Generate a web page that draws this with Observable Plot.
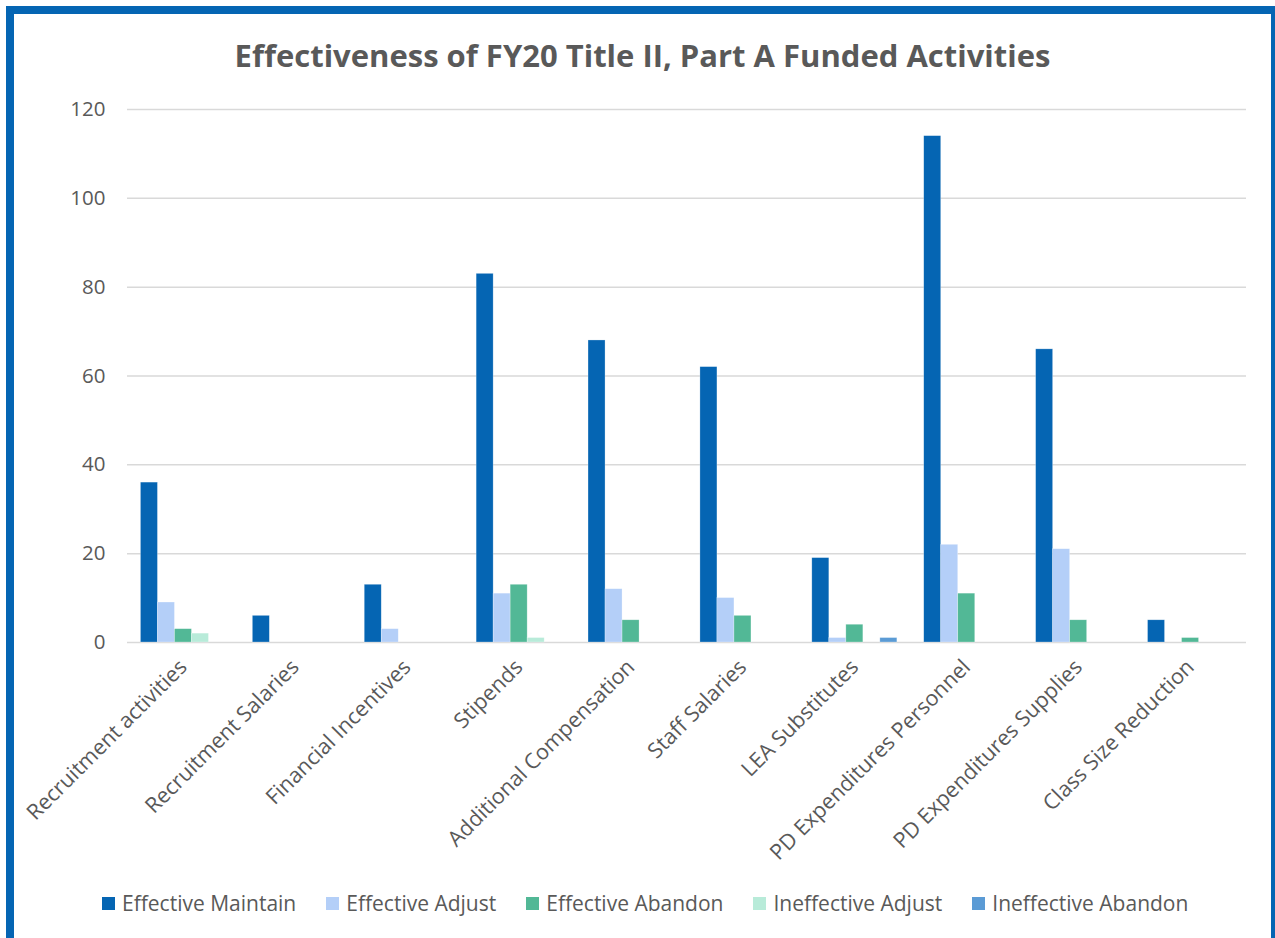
<!DOCTYPE html>
<html>
<head>
<meta charset="utf-8">
<script src="https://cdn.jsdelivr.net/npm/d3@7"></script>
<script src="https://cdn.jsdelivr.net/npm/@observablehq/plot@0.6"></script>
<style>
  html, body { margin: 0; padding: 0; width: 1275px; height: 938px; overflow: hidden; background: #fff; }
  #frame { position: absolute; left: 6px; top: 6px; width: 1273px; height: 960px; box-sizing: border-box; border: 8px solid #0565b3; }
  #title { position: absolute; left: 0; width: 1285px; top: 33px; text-align: center; font-family: "Open Sans", sans-serif; font-weight: 700; font-size: 31px; color: #595959; line-height: 44px; }
  #chart { position: absolute; left: 0; top: 90px; }
  #legend { position: absolute; left: 102px; top: 889px; display: flex; gap: 30px; font-family: "Open Sans", sans-serif; font-size: 21px; color: #595959; align-items: center; }
  .item { display: flex; align-items: center; gap: 7px; }
  .sw { width: 13px; height: 13px; display: inline-block; }
</style>
</head>
<body>
<div id="frame"></div>
<div id="title">Effectiveness of FY20 Title II, Part A Funded Activities</div>
<div id="chart"></div>
<div id="legend"></div>
<script>
const categories = ["Recruitment activities", "Recruitment Salaries", "Financial Incentives", "Stipends", "Additional Compensation", "Staff Salaries", "LEA Substitutes", "PD Expenditures Personnel", "PD Expenditures Supplies", "Class Size Reduction"];
const seriesNames = ["Effective Maintain", "Effective Adjust", "Effective Abandon", "Ineffective Adjust", "Ineffective Abandon"];
const seriesColors = ["#0565b3", "#b4cff8", "#52b896", "#b8ebd9", "#5b9bd5"];
const effectiveMaintain  = [36, 6, 13, 83, 68, 62, 19, 114, 66, 5];
const effectiveAdjust    = [9, 0, 3, 11, 12, 10, 1, 22, 21, 0];
const effectiveAbandon   = [3, 0, 0, 13, 5, 6, 4, 11, 5, 1];
const ineffectiveAdjust  = [2, 0, 0, 1, 0, 0, 0, 0, 0, 0];
const ineffectiveAbandon = [0, 0, 0, 0, 0, 0, 1, 0, 0, 0];
const yTicks = [0, 20, 40, 60, 80, 100, 120];

const seriesValues = [effectiveMaintain, effectiveAdjust, effectiveAbandon, ineffectiveAdjust, ineffectiveAbandon];

const W = 1275, ML = 127, MR = 29;
const paddingInner = 0.24, paddingOuter = 0.12;
const bandwidth = (W - ML - MR) / (categories.length) * (1 - paddingInner);
const barW = bandwidth / seriesNames.length;

const barMarks = seriesNames.map((s, j) => {
  const data = categories.map((c, i) => ({category: c, series: s, value: seriesValues[j][i]})).filter(d => d.value > 0);
  return Plot.barY(data, {
    x: "category", y: "value", fill: "series",
    insetLeft: j * barW, insetRight: (seriesNames.length - 1 - j) * barW,
    stroke: "#ffffff", strokeOpacity: 0.45, strokeWidth: 0.6
  });
});

const chart = Plot.plot({
  width: W,
  height: 802,
  marginLeft: ML,
  marginRight: MR,
  marginTop: 19,
  marginBottom: 250,
  style: {fontFamily: "Open Sans, sans-serif", fontSize: "20px", color: "#595959", background: "transparent", overflow: "visible"},
  x: {domain: categories, paddingInner, paddingOuter, round: false, label: null},
  y: {domain: [0, 120], label: null},
  color: {domain: seriesNames, range: seriesColors},
  marks: [
    Plot.ruleY(yTicks, {stroke: "#d9d9d9", strokeWidth: 1.5}),
    ...barMarks,
    Plot.axisY({ticks: yTicks, tickSize: 0, tickPadding: 22, fill: "#595959", fontSize: 20.5, label: null}),
    Plot.axisX({tickRotate: -45, tickSize: 0, tickPadding: 21, fill: "#595959", fontSize: 21.5, label: null})
  ]
});
document.getElementById("chart").appendChild(chart);

const legend = document.getElementById("legend");
seriesNames.forEach((s, i) => {
  const item = document.createElement("div");
  item.className = "item";
  const sw = document.createElement("span");
  sw.className = "sw";
  sw.style.background = seriesColors[i];
  const t = document.createElement("span");
  t.textContent = s;
  item.appendChild(sw);
  item.appendChild(t);
  legend.appendChild(item);
});
</script>
</body>
</html>
